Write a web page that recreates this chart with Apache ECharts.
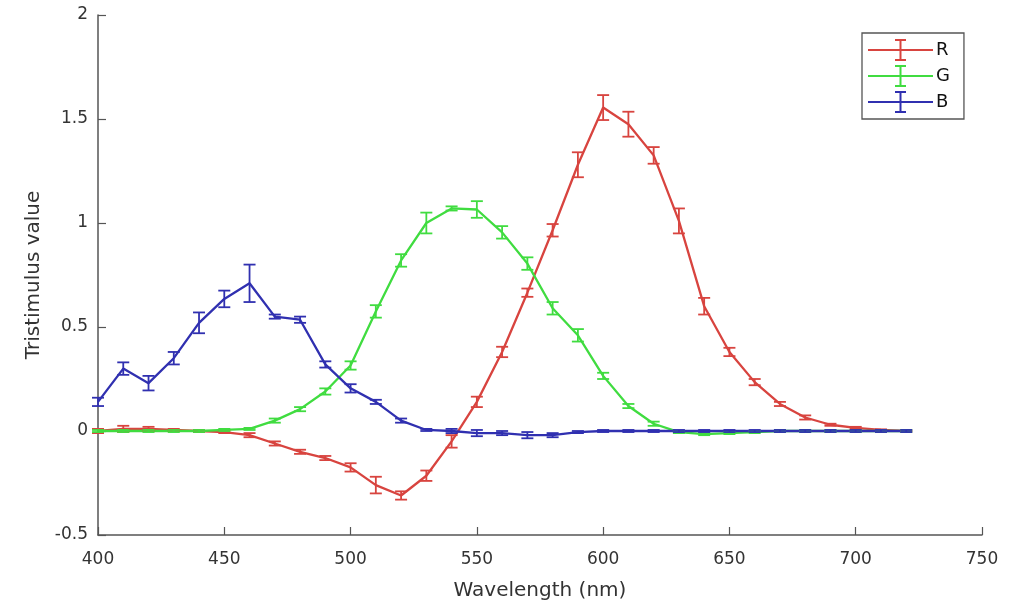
<!DOCTYPE html>
<html>
<head>
<meta charset="utf-8">
<script src="https://cdn.jsdelivr.net/npm/echarts@6/dist/echarts.min.js"></script>
<style>
  html, body { margin: 0; padding: 0; background: #fff; }
  #chart { width: 1017px; height: 609px; }
</style>
</head>
<body>
<div id="chart"></div>
<script>
// ---- Data ----
const wavelengths = [400,410,420,430,440,450,460,470,480,490,500,510,520,530,540,550,560,570,580,590,600,610,620,630,640,650,660,670,680,690,700,710,720];

const rValues = [0.00,0.01,0.01,0.005,0.00,-0.005,-0.02,-0.06,-0.10,-0.13,-0.175,-0.26,-0.31,-0.215,-0.05,0.14,0.38,0.665,0.965,1.28,1.555,1.475,1.325,1.01,0.60,0.38,0.235,0.13,0.065,0.03,0.015,0.005,0.00];
const rErrors = [0.01,0.015,0.01,0.005,0.005,0.005,0.01,0.01,0.01,0.01,0.02,0.04,0.02,0.025,0.03,0.025,0.025,0.02,0.03,0.06,0.06,0.06,0.04,0.06,0.04,0.02,0.015,0.01,0.01,0.005,0.005,0.003,0.003];

const gValues = [0.00,0.00,0.00,0.00,0.00,0.005,0.01,0.05,0.105,0.19,0.315,0.575,0.82,1.00,1.07,1.065,0.955,0.805,0.59,0.46,0.265,0.12,0.035,-0.005,-0.015,-0.01,-0.005,0.00,0.00,0.00,0.00,0.00,0.00];
const gErrors = [0.005,0.005,0.005,0.005,0.005,0.005,0.005,0.01,0.01,0.015,0.02,0.03,0.03,0.05,0.01,0.04,0.03,0.03,0.03,0.03,0.015,0.01,0.01,0.005,0.005,0.005,0.005,0.005,0.005,0.005,0.005,0.005,0.005];

const bValues = [0.14,0.30,0.23,0.35,0.52,0.635,0.71,0.55,0.535,0.32,0.205,0.14,0.05,0.005,0.00,-0.01,-0.01,-0.02,-0.02,-0.005,0.00,0.00,0.00,0.00,0.00,0.00,0.00,0.00,0.00,0.00,0.00,0.00,0.00];
const bErrors = [0.02,0.03,0.035,0.03,0.05,0.04,0.09,0.01,0.015,0.015,0.02,0.01,0.01,0.005,0.01,0.015,0.01,0.015,0.01,0.005,0.005,0.005,0.005,0.005,0.005,0.005,0.005,0.005,0.005,0.005,0.005,0.005,0.005];

const seriesNames = ['R', 'G', 'B'];
const xTicks = { min: 400, max: 750, interval: 50 };
const yTicks = { min: -0.5, max: 2, interval: 0.5 };

// ---- Styling ----
const colors = { R: '#d8443f', G: '#40dc40', B: '#3030b0' };
const font = 'DejaVu Sans';
const legendIcon = 'path://M0,10h65v2h-65z M31.5,0h2v22h-2z M27,0h11v2h-11z M27,20h11v2h-11z';

function lineSeries(name, values) {
  return {
    type: 'line',
    name: name,
    data: wavelengths.map((w, i) => [w, values[i]]),
    showSymbol: false,
    symbol: 'none',
    lineStyle: { color: colors[name], width: 2.3 },
    itemStyle: { color: colors[name] },
    z: 2,
    animation: false
  };
}

function errorSeries(name, values, errors) {
  const color = colors[name];
  return {
    type: 'custom',
    name: name,
    data: wavelengths.map((w, i) => [w, values[i] - errors[i], values[i] + errors[i]]),
    encode: { x: 0, y: [1, 2] },
    renderItem: function (params, api) {
      const x = api.value(0);
      const lo = api.coord([x, api.value(1)]);
      const hi = api.coord([x, api.value(2)]);
      const hw = 6;
      const st = { stroke: color, lineWidth: 1.8 };
      return {
        type: 'group',
        children: [
          { type: 'line', shape: { x1: lo[0], y1: lo[1], x2: hi[0], y2: hi[1] }, style: st },
          { type: 'line', shape: { x1: lo[0] - hw, y1: lo[1], x2: lo[0] + hw, y2: lo[1] }, style: st },
          { type: 'line', shape: { x1: hi[0] - hw, y1: hi[1], x2: hi[0] + hw, y2: hi[1] }, style: st }
        ]
      };
    },
    z: 3,
    animation: false
  };
}

const chart = echarts.init(document.getElementById('chart'));
chart.setOption({
  animation: false,
  backgroundColor: '#ffffff',
  grid: { left: 98, right: 35, top: 15, bottom: 74 },
  legend: {
    orient: 'vertical',
    left: 862,
    top: 33,
    padding: [6, 14, 6, 6],
    itemWidth: 65,
    itemHeight: 22,
    itemGap: 4,
    borderColor: '#555',
    borderWidth: 1.3,
    backgroundColor: '#fff',
    data: seriesNames.map(n => ({ name: n, icon: legendIcon, itemStyle: { color: colors[n] } })),
    textStyle: { fontFamily: font, fontSize: 18, color: '#111', padding: [0, 0, 0, -2] }
  },
  xAxis: {
    type: 'value',
    min: xTicks.min,
    max: xTicks.max,
    interval: xTicks.interval,
    name: 'Wavelength (nm)',
    nameLocation: 'middle',
    nameGap: 46,
    nameTextStyle: { fontFamily: font, fontSize: 20, color: '#333' },
    axisLine: { show: true, onZero: false, lineStyle: { color: '#555', width: 1.5 } },
    axisTick: { show: true, inside: true, length: 8, lineStyle: { color: '#555', width: 1.2 } },
    axisLabel: { fontFamily: font, fontSize: 17, color: '#333', margin: 16 },
    splitLine: { show: false }
  },
  yAxis: {
    type: 'value',
    min: yTicks.min,
    max: yTicks.max,
    interval: yTicks.interval,
    name: 'Tristimulus value',
    nameLocation: 'middle',
    nameRotate: 90,
    nameGap: 50,
    nameTextStyle: { fontFamily: font, fontSize: 20, color: '#333' },
    axisLine: { show: true, onZero: false, lineStyle: { color: '#555', width: 1.5 } },
    axisTick: { show: true, inside: true, length: 8, lineStyle: { color: '#555', width: 1.2 } },
    axisLabel: { fontFamily: font, fontSize: 17, color: '#333', margin: 10 },
    splitLine: { show: false }
  },
  series: [
    lineSeries('R', rValues), errorSeries('R', rValues, rErrors),
    lineSeries('G', gValues), errorSeries('G', gValues, gErrors),
    lineSeries('B', bValues), errorSeries('B', bValues, bErrors)
  ]
});
</script>
</body>
</html>
